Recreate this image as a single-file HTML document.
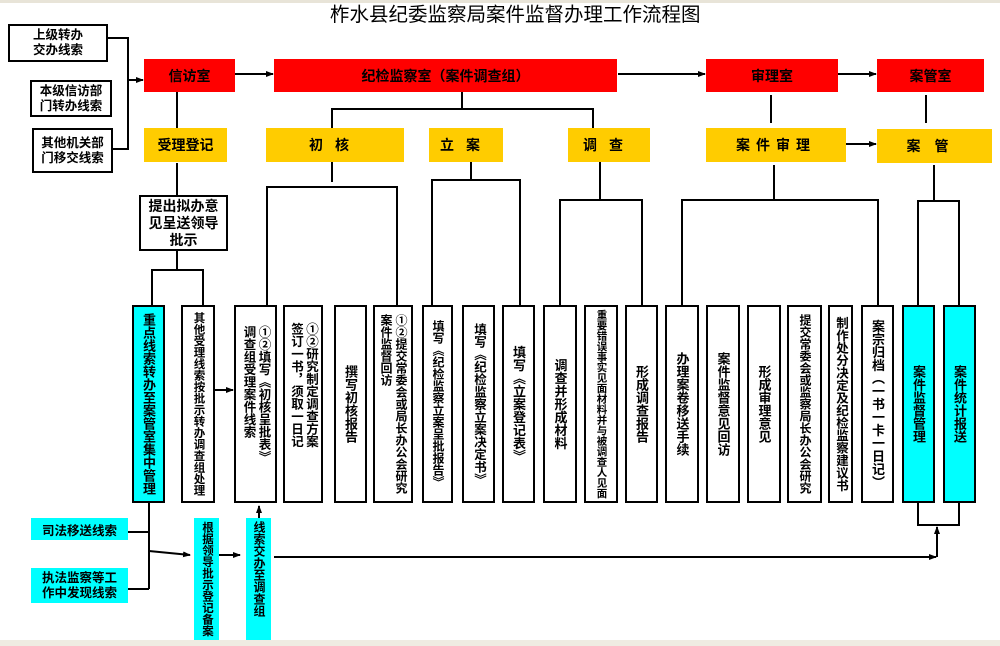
<!DOCTYPE html>
<html><head><meta charset="utf-8"><style>
body{margin:0;width:1000px;height:646px;background:#fff;position:relative;overflow:hidden;font-family:"Liberation Sans","Noto Sans CJK SC",sans-serif;}
.b{position:absolute;box-sizing:border-box;display:flex;align-items:center;justify-content:center;text-align:center;font-weight:bold;color:#000;}
.red{background:#ff0000;font-size:14px;}
.yel{background:#ffcc00;font-size:14px;}
.w{border:2px solid #000;background:#fff;font-size:12.5px;line-height:15px;}
.v{position:absolute;box-sizing:border-box;border:2px solid #000;background:#fff;top:305px;height:198px;font-weight:bold;font-size:13px;}
.v span,.cb span{position:absolute;left:50%;top:50%;transform:translate(-50%,-50%);writing-mode:vertical-rl;text-orientation:upright;white-space:nowrap;line-height:15px;}
.c{background:#00ffff;}
.cb{position:absolute;background:#00ffff;box-sizing:border-box;font-weight:bold;font-size:12.5px;}
.cbh{position:absolute;background:#00ffff;box-sizing:border-box;font-weight:bold;font-size:12.5px;display:flex;align-items:center;justify-content:center;text-align:center;}
</style></head><body>
<div style="position:absolute;left:0;top:0;width:1000px;height:3px;background:#e8e4d8"></div>
<div style="position:absolute;left:0;top:640px;width:1000px;height:6px;background:#efece2"></div>
<div style="position:absolute;left:330px;top:3px;font-size:19.5px;white-space:nowrap;line-height:24px">柞水县纪委监察局案件监督办理工作流程图</div>

<svg style="position:absolute;left:0;top:0" width="1000" height="646">
<defs><marker id="a" markerWidth="8" markerHeight="8" refX="7" refY="4" orient="auto" markerUnits="userSpaceOnUse"><path d="M0,1 L8,4 L0,7z" fill="#000"/></marker></defs>
<g stroke="#000" stroke-width="2" fill="none">
<path d="M108 38H128V149H113"/>
<path d="M128 80H143" marker-end="url(#a)"/>
<path d="M226 74H273" marker-end="url(#a)"/>
<path d="M618 74H705" marker-end="url(#a)"/>
<path d="M838 74H876" marker-end="url(#a)"/>
<path d="M846 144H876" marker-end="url(#a)"/>
<path d="M177 92V128M177 163V195M177 251V270M152 305V270H203V305"/>
<path d="M462 92V109M332 128V109H593V128"/>
<path d="M332 162V182M267 305V187H397V305"/>
<path d="M471 162V180M432 305V180H520V305"/>
<path d="M600 162V200M560 305V200H642V305"/>
<path d="M771 95V123M774 165V200M682 305V200H878V305"/>
<path d="M926 95V123M934 165V201M918 305V201H959V305"/>
<path d="M918 503V525H959V503"/>
<path d="M937 557V527" marker-end="url(#a)"/>
<path d="M274 557H936" marker-end="url(#a)"/>
<path d="M215 390H233" marker-end="url(#a)"/>
<path d="M149 503V589M128 532H149M128 589H149"/>
<path d="M149 551L190 555" marker-end="url(#a)"/>
<path d="M219 555H240" marker-end="url(#a)"/>
<path d="M259 518V506" marker-end="url(#a)"/>
</g></svg>

<div class="b w" style="left:8px;top:24px;width:100px;height:38px">上级转办<br>交办线索</div>
<div class="b w" style="left:30px;top:80px;width:82px;height:37px">本级信访部<br>门转办线索</div>
<div class="b w" style="left:32px;top:128px;width:81px;height:45px">其他机关部<br>门移交线索</div>

<div class="b red" style="left:144px;top:59px;width:91px;height:33px">信访室</div>
<div class="b red" style="left:274px;top:59px;width:343px;height:33px">纪检监察室（案件调查组）</div>
<div class="b red" style="left:706px;top:59px;width:132px;height:33px">审理室</div>
<div class="b red" style="left:877px;top:59px;width:107px;height:33px">案管室</div>

<div class="b yel" style="left:144px;top:128px;width:83px;height:34px">受理登记</div>
<div class="b yel" style="left:266px;top:128px;width:138px;height:34px;letter-spacing:12px">初核</div>
<div class="b yel" style="left:429px;top:128px;width:74px;height:34px;letter-spacing:12px">立案</div>
<div class="b yel" style="left:568px;top:128px;width:82px;height:34px;letter-spacing:12px">调查</div>
<div class="b yel" style="left:706px;top:128px;width:140px;height:34px;letter-spacing:6px">案件审理</div>
<div class="b yel" style="left:877px;top:129px;width:115px;height:34px;letter-spacing:14px">案管</div>

<div class="b w" style="left:139px;top:195px;width:89px;height:56px;font-size:14px;line-height:17px">提出拟办意<br>见呈送领导<br>批示</div>

<div class="v c" style="left:132px;width:33px"><span>重点线索转办至案管室集中管理</span></div>
<div class="v" style="left:181px;width:34px;font-size:11.5px"><span>其他受理线索按批示转办调查组处理</span></div>
<div class="v" style="left:234px;width:43px;font-size:12.5px"><span style="top:45%">①②填写《初核呈批表》<br>调查组受理案件线索</span></div>
<div class="v" style="left:283px;width:40px;font-size:12.5px"><span style="top:40%">①②研究制定调查方案<br>签订一书，须取一日记</span></div>
<div class="v" style="left:334px;width:33px"><span>撰写初核报告</span></div>
<div class="v" style="left:373px;width:40px;font-size:12px"><span>①②提交常委会或局长办公会研究<br>案件监督回访</span></div>
<div class="v" style="left:422px;width:31px;font-size:12px"><span>填写《纪检监察立案呈批报告》</span></div>
<div class="v" style="left:462px;width:33px;font-size:12.5px"><span>填写《纪检监察立案决定书》</span></div>
<div class="v" style="left:502px;width:33px"><span>填写《立案登记表》</span></div>
<div class="v" style="left:543px;width:34px"><span>调查并形成材料</span></div>
<div class="v" style="left:584px;width:34px;font-size:10.5px"><span>重要错误事实见面材料并与被调查人见面</span></div>
<div class="v" style="left:625px;width:33px"><span>形成调查报告</span></div>
<div class="v" style="left:665px;width:34px"><span>办理案卷移送手续</span></div>
<div class="v" style="left:706px;width:34px"><span>案件监督意见回访</span></div>
<div class="v" style="left:747px;width:34px"><span>形成审理意见</span></div>
<div class="v" style="left:787px;width:35px;font-size:12px"><span>提交常委会或监察局长办公会研究</span></div>
<div class="v" style="left:828px;width:25px;font-size:12.5px"><span>制作处分决定及纪检监察建议书</span></div>
<div class="v" style="left:861px;width:33px"><span>案宗归档（一书一卡一日记）</span></div>
<div class="v c" style="left:902px;width:33px"><span>案件监督管理</span></div>
<div class="v c" style="left:943px;width:33px"><span>案件统计报送</span></div>

<div class="cbh" style="left:31px;top:518px;width:97px;height:22px">司法移送线索</div>
<div class="cbh" style="left:31px;top:568px;width:97px;height:35px;line-height:15px">执法监察等工<br>作中发现线索</div>
<div class="cb" style="left:194px;top:518px;width:25px;height:122px;font-size:11.5px"><span>根据领导批示登记备案</span></div>
<div class="cb" style="left:246px;top:518px;width:25px;height:122px;font-size:12px"><span style="top:42%">线索交办至调查组</span></div>
</body></html>
